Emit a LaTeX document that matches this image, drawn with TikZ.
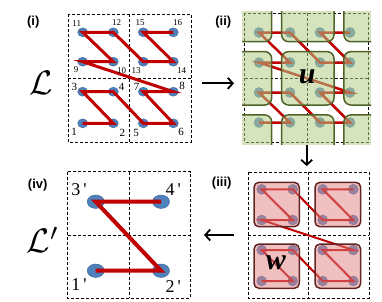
\documentclass[tikz,border=0pt]{standalone}
\usepackage{fontspec}
\setmainfont{Liberation Serif}
\newfontfamily\lblfont{Liberation Sans}
\usetikzlibrary{shapes.geometric,arrows.meta}
\definecolor{zred}{RGB}{192,0,0}
\definecolor{dotblue}{RGB}{79,129,189}
\definecolor{dotedge}{RGB}{60,100,150}
\definecolor{ugreen}{RGB}{180,205,135}
\definecolor{uedge}{RGB}{79,98,40}
\definecolor{wpink}{RGB}{225,130,130}
\definecolor{wedge}{RGB}{99,37,35}
\tikzset{
  frame/.style={draw=black, line width=0.8pt, dash pattern=on 3pt off 2pt},
  dotA/.style={ellipse, fill=dotblue, draw=dotedge, line width=0.4pt, minimum width=10pt, minimum height=9pt, inner sep=0pt},
  dotB/.style={circle, fill=dotblue, draw=dotedge, line width=0.4pt, minimum size=10pt, inner sep=0pt},
  dotD/.style={ellipse, fill=dotblue, draw=dotedge, line width=0.4pt, minimum width=17pt, minimum height=13.5pt, inner sep=0pt},
  zline/.style={draw=zred, line width=3pt},
  ublock/.style={fill=ugreen, fill opacity=0.55, draw=uedge, draw opacity=1, line width=1.5pt, rounded corners=7pt},
  wblock/.style={fill=wpink, fill opacity=0.5, draw=wedge, draw opacity=1, line width=1.5pt, rounded corners=5pt},
  numS/.style={font=\fontsize{9}{9}\selectfont, inner sep=0pt},
  numL/.style={font=\fontsize{11}{11}\selectfont, inner sep=0pt},
  numP/.style={font=\fontsize{18}{18}\selectfont, inner sep=0pt},
  plabel/.style={font=\lblfont\bfseries\fontsize{13}{13}\selectfont, inner sep=0pt},
  opname/.style={font=\bfseries\itshape\fontsize{30}{30}\selectfont, inner sep=0pt},
  bigarrow/.style={draw=black, line width=1.8pt, -{Straight Barb[length=5pt,width=11pt]}}
}
\begin{document}
\begin{tikzpicture}[x=1pt,y=-1pt]
\useasboundingbox (0,0) rectangle (382,301);
% ---------- panel (i)
\node[plabel] (li) at (33.3,21.7) {(i)};
\node[scale=3.4] (Lc) at (41.7,83) {$\mathcal{L}$};
\draw[frame] (68,14) rectangle (191,142);
\draw[frame] (129.5,14) -- (129.5,142);
\draw[frame] (68,78) -- (191,78);
\foreach \n/\x/\y in {1/82.7/123.3,2/113.3/123.3,3/82.7/91.7,4/113.3/91.7,
  5/143.3/123.3,6/173.3/123.3,7/143.3/91.7,8/173.3/91.7,
  9/82.7/61.7,10/113.3/61.7,11/82.7/32.3,12/113.3/32.3,
  13/143.3/61.7,14/173.3/61.7,15/143.3/32.3,16/173.3/32.3}
  \node[dotA] (a\n) at (\x,\y) {};
\draw[zline] (a1.center) \foreach \n in {2,...,16} { -- (a\n.center) };
\foreach \n/\x/\y in {11/76.7/23.3,12/116.7/22.7,15/140/22.7,16/177.7/22.7,
  9/76/70,10/121.7/70.7,13/136/70.7,14/181.7/70.7}
  \node[numS] (na\n) at (\x,\y) {\n};
\foreach \n/\x/\y in {3/74.3/87.3,4/121.7/87.3,7/136.7/87.3,8/182/86,
  1/74/131.7,2/122.3/133.3,5/136/133.3,6/181/131.7}
  \node[numL] (na\n) at (\x,\y) {\n};
% ---------- arrow i -> ii
\coordinate (ar1s) at (201.7,83.3);
\coordinate (ar1e) at (234,83.3);
\draw[bigarrow] (ar1s) -- (ar1e);
% ---------- panel (ii)
\node[plabel] (lii) at (223.3,21.7) {(ii)};
\draw[frame] (244.5,13) rectangle (368.5,142);
\draw[frame] (307.3,13) -- (307.3,142);
\draw[frame] (244.5,78) -- (368.5,78);
\foreach \n/\x/\y in {1/259/122.5,2/290/122.5,3/259/92.5,4/290/92.5,
  5/320/122.5,6/350/122.5,7/320/92.5,8/350/92.5,
  9/259/62.5,10/290/62.5,11/259/32.5,12/290/32.5,
  13/320/62.5,14/350/62.5,15/320/32.5,16/350/32.5}
  \node[dotB] (b\n) at (\x,\y) {};
\draw[zline, line width=2.5pt] (b1.center) \foreach \n in {2,...,16} { -- (b\n.center) };
\begin{scope}
  \clip (242,11) rectangle (371,144);
  \foreach \cx in {245.5,307.8,370.1}
    \foreach \cy in {15,78.3,141.6}
      \draw[ublock] (\cx-26.2,\cy-26.7) rectangle (\cx+26.2,\cy+26.7);
\end{scope}
\node[opname] (Uc) at (307.3,77) {u};
% ---------- arrow ii -> iii
\coordinate (ar2s) at (306.7,145);
\coordinate (ar2e) at (306.7,166);
\draw[bigarrow] (ar2s) -- (ar2e);
% ---------- panel (iii)
\node[plabel] (liii) at (221.7,183.3) {(iii)};
\draw[frame] (248,172) rectangle (369,298);
\draw[frame] (308.5,172) -- (308.5,298);
\draw[frame] (248,235) -- (369,235);
\foreach \n/\x/\y in {1/261.7/281,2/292.7/281,3/261.7/250,4/292.7/250,
  5/322.7/281,6/353.3/281,7/322.7/250,8/353.3/250,
  9/261.7/220,10/292.7/220,11/261.7/189.3,12/292.7/189.3,
  13/322.7/220,14/353.3/220,15/322.7/189.3,16/353.3/189.3}
  \node[dotB] (c\n) at (\x,\y) {};
\draw[zline, line width=2pt] (c1.center) \foreach \n in {2,...,16} { -- (c\n.center) };
\draw[wblock] (254,182.3) rectangle (299.3,226.7);
\draw[wblock] (315,182.3) rectangle (360.7,226.7);
\draw[wblock] (254,244) rectangle (299.3,288.3);
\draw[wblock] (315,244) rectangle (360.7,288.3);
\node[opname] (Wc) at (275.8,263) {w};
% ---------- arrow iii -> iv
\coordinate (ar3s) at (233.5,235);
\coordinate (ar3e) at (204,235);
\draw[bigarrow] (ar3s) -- (ar3e);
% ---------- panel (iv)
\node[plabel] (liv) at (37.7,185) {(iv)};
\node[scale=3.4] (Lp) at (43,240) {$\mathcal{L}'$};
\draw[frame] (67.7,171.7) rectangle (190,298.3);
\draw[frame] (129,171.7) -- (129,298.3);
\draw[frame] (67.7,235) -- (190,235);
\node[dotD] (d3) at (95.7,201.7) {};
\node[dotD] (d4) at (161,201.7) {};
\node[dotD] (d1) at (95.7,270.7) {};
\node[dotD] (d2) at (161,270.7) {};
\draw[zline, line width=4pt] (d1.center) -- (d2.center) -- (d3.center) -- (d4.center);
\node[numP] (nd3) at (79,189.3) {3\,\textquotesingle};
\node[numP] (nd4) at (173.3,189.3) {4\,\textquotesingle};
\node[numP] (nd1) at (79,285) {1\,\textquotesingle};
\node[numP] (nd2) at (173.3,286.7) {2\,\textquotesingle};
\end{tikzpicture}
\end{document}
